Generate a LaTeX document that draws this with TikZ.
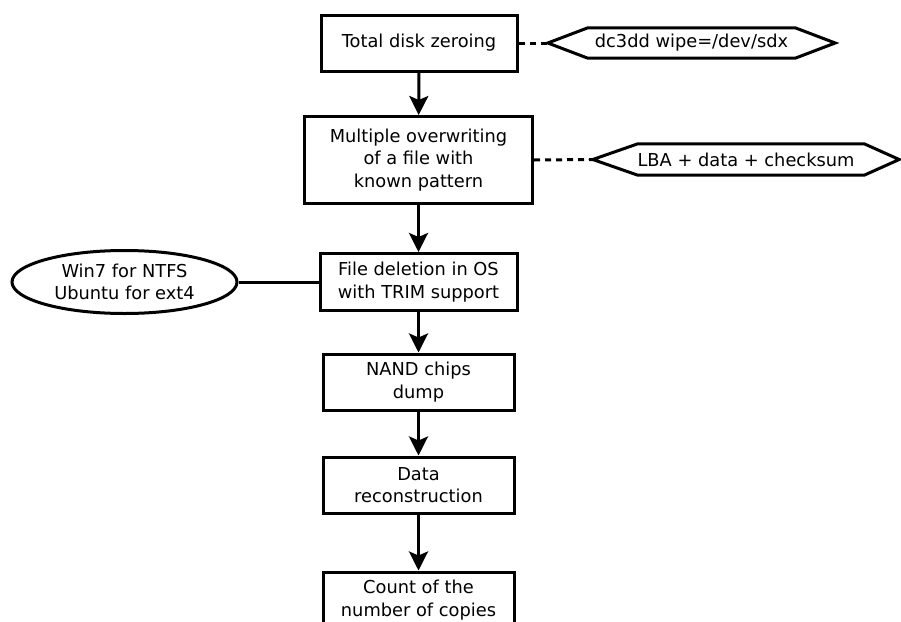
\documentclass[tikz,border=0pt]{standalone}
\usepackage{fontspec}
\setmainfont{DejaVu Sans}
\usetikzlibrary{arrows.meta,shapes.geometric}
\begin{document}
\begin{tikzpicture}[x=1pt,y=-1pt,
  every node/.style={font=\fontsize{17.8}{22.5}\selectfont, align=center, inner sep=0pt},
  stepbox/.style={draw, line width=3pt, minimum width=#1},
  hexlabel/.style={minimum height=30pt},
  oval/.style={draw, ellipse, line width=3pt, minimum width=225pt, minimum height=63pt},
  flow/.style={line width=3pt, -{Stealth[length=19pt,width=19pt,inset=4pt]}},
  note/.style={line width=3pt, dash pattern=on 6pt off 5pt},
  plain/.style={line width=3pt}]
\useasboundingbox (0,0) rectangle (901,621);

% main process chain
\node[stepbox=196pt, minimum height=56pt] (zero) at (419,43) {Total disk zeroing};
\node[stepbox=228pt, minimum height=87pt] (over) at (418.5,160) {Multiple overwriting\\of a file with\\known pattern};
\node[stepbox=197pt, minimum height=57pt] (del) at (418.5,282) {File deletion in OS\\with TRIM support};
\node[stepbox=191pt, minimum height=56pt] (nand) at (418.5,382) {NAND chips\\dump};
\node[stepbox=191pt, minimum height=56pt] (recon) at (418.5,485) {Data\\reconstruction};
\node[stepbox=191pt, minimum height=56pt] (count) at (418.5,600) {Count of the\\number of copies};

\draw[flow] (zero) -- (over);
\draw[flow] (over) -- (del);
\draw[flow] (del) -- (nand);
\draw[flow] (nand) -- (recon);
\draw[flow] (recon) -- (count);

% annotations
\node[hexlabel, minimum width=287pt] (wipe) at (691.5,43) {dc3dd wipe=/dev/sdx};
\draw[plain, line join=miter] (wipe.west) -- ([xshift=40pt]wipe.north west) -- ([xshift=-40pt]wipe.north east)
  -- (wipe.east) -- ([xshift=-40pt]wipe.south east) -- ([xshift=40pt]wipe.south west) -- cycle;

\node[hexlabel, minimum width=306pt, minimum height=31pt] (lba) at (746,159.5) {LBA + data + checksum};
\draw[plain, line join=miter] (lba.west) -- ([xshift=45pt]lba.north west) -- ([xshift=-35pt]lba.north east)
  -- (lba.east) -- ([xshift=-35pt]lba.south east) -- ([xshift=45pt]lba.south west) -- cycle;

\node[oval] (os) at (124.5,282) {Win7 for NTFS\\Ubuntu for ext4};

\draw[note] (zero.east) -- (wipe.west);
\draw[note] (over.east) -- (lba.west);
\draw[plain] (os.east) -- (del.west);
\end{tikzpicture}
\end{document}
